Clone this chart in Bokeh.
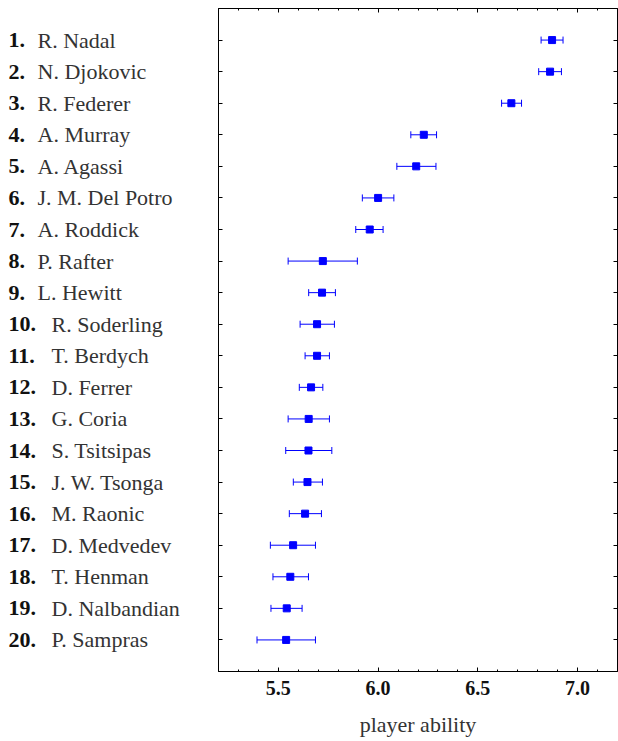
from bokeh.plotting import figure
from bokeh.layouts import row
from bokeh.models import (Range1d, FixedTicker, LinearAxis, PrintfTickFormatter,
                          CustomJSTickFormatter, Whisker, TeeHead, ColumnDataSource)
from bokeh.core.properties import value
from bokeh.embed import file_html
from bokeh.resources import INLINE

players = ["R. Nadal", "N. Djokovic", "R. Federer", "A. Murray", "A. Agassi",
           "J. M. Del Potro", "A. Roddick", "P. Rafter", "L. Hewitt", "R. Soderling",
           "T. Berdych", "D. Ferrer", "G. Coria", "S. Tsitsipas", "J. W. Tsonga",
           "M. Raonic", "D. Medvedev", "T. Henman", "D. Nalbandian", "P. Sampras"]
ability = [6.872, 6.862, 6.668, 6.229, 6.191, 6.000, 5.958, 5.723, 5.719, 5.694,
           5.694, 5.664, 5.652, 5.651, 5.646, 5.634, 5.574, 5.560, 5.542, 5.539]
lower = [6.817, 6.805, 6.619, 6.164, 6.094, 5.921, 5.888, 5.549, 5.652, 5.609,
         5.634, 5.605, 5.549, 5.537, 5.575, 5.555, 5.460, 5.473, 5.463, 5.393]
upper = [6.927, 6.919, 6.719, 6.293, 6.290, 6.079, 6.025, 5.896, 5.786, 5.781,
         5.756, 5.723, 5.756, 5.768, 5.721, 5.716, 5.686, 5.651, 5.619, 5.686]
ranks = list(range(1, 21))
x_major = [5.5, 6.0, 6.5, 7.0]
x_minor = [5.3, 5.4, 5.6, 5.7, 5.8, 5.9, 6.1, 6.2, 6.3, 6.4,
           6.6, 6.7, 6.8, 6.9, 7.1]
x_label = "player ability"

SERIF = "Liberation Serif"
X0, X1 = 5.2, 7.2
H = 741
TOP, BOTTOM = 8, 70
LEFT_W = 217

yr = Range1d(21, 0)

# ---- label column (left) ----
lab = figure(width=LEFT_W, height=H, x_range=Range1d(0, LEFT_W), y_range=yr,
             output_backend="svg", toolbar_location=None,
             x_axis_location=None, y_axis_location=None,
             min_border_left=0, min_border_right=0,
             min_border_top=TOP, min_border_bottom=BOTTOM)
lab.grid.visible = False
lab.outline_line_color = None
lab.border_fill_color = "white"

num_src = ColumnDataSource(dict(x=[8] * len(ranks), y=ranks,
                                text=[f"{r}." for r in ranks]))
name_src = ColumnDataSource(dict(x=[37 if r < 10 else 51 for r in ranks], y=ranks,
                                 text=players))
lab.text("x", "y", text="text", source=num_src, text_font=value(SERIF),
         text_font_style="bold", text_font_size="22px", text_color="#111111",
         text_align="left", text_baseline="middle")
lab.text("x", "y", text="text", source=name_src, text_font=value(SERIF),
         text_font_style="normal", text_font_size="22px", text_color="#333333",
         text_align="left", text_baseline="middle")

# ---- main plot ----
src = ColumnDataSource(dict(rank=ranks, ability=ability, lo=lower, hi=upper))

p = figure(width=618 - LEFT_W, height=H, x_range=Range1d(X0, X1), y_range=yr,
           output_backend="svg", toolbar_location=None,
           x_axis_location=None, y_axis_location=None,
           min_border_left=1, min_border_right=1,
           min_border_top=TOP, min_border_bottom=BOTTOM)
p.grid.visible = False
p.outline_line_color = "black"
p.outline_line_width = 1
p.background_fill_color = "white"
p.border_fill_color = "white"

xt = FixedTicker(ticks=x_major, minor_ticks=x_minor)
yt = FixedTicker(ticks=ranks, minor_ticks=[])
blank = CustomJSTickFormatter(code="return ''")

xb = LinearAxis(ticker=xt, formatter=PrintfTickFormatter(format="%.1f"),
                axis_label=x_label,
                major_tick_in=4, major_tick_out=0, minor_tick_in=2, minor_tick_out=0,
                major_label_standoff=9, axis_label_standoff=14,
                major_label_text_font=SERIF, major_label_text_font_style="bold",
                major_label_text_font_size="20px", major_label_text_color="#111111",
                axis_label_text_font=SERIF, axis_label_text_font_style="normal",
                axis_label_text_font_size="22px", axis_label_text_color="#333333")
p.add_layout(xb, "below")

xa = LinearAxis(ticker=xt, formatter=blank, major_tick_in=4, major_tick_out=0,
                minor_tick_in=2, minor_tick_out=0, major_label_standoff=0,
                major_label_text_font_size="1px")
p.add_layout(xa, "above")

for side in ("left", "right"):
    ya = LinearAxis(ticker=yt, formatter=blank, major_tick_in=4, major_tick_out=0,
                    minor_tick_in=0, minor_tick_out=0, major_label_standoff=0,
                    major_label_text_font_size="1px")
    p.add_layout(ya, side)

whisk = Whisker(source=src, base="rank", lower="lo", upper="hi", dimension="width",
                line_color="blue", line_width=1,
                upper_head=TeeHead(size=7, line_color="blue", line_width=1),
                lower_head=TeeHead(size=7, line_color="blue", line_width=1))
p.add_layout(whisk)

p.scatter("ability", "rank", source=src, marker="square", size=7,
          fill_color="blue", line_color="blue")

layout = row(lab, p, spacing=0)
open("out.html", "w").write(file_html(layout, INLINE))
